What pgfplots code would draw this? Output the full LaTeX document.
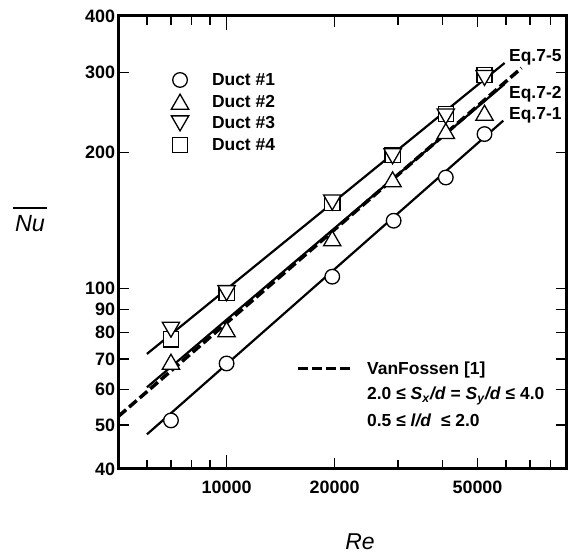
\documentclass[border=0pt]{standalone}
\usepackage{fontspec}
\setmainfont{Liberation Sans}
\setsansfont{Liberation Sans}
\usepackage{pgfplots}
\pgfplotsset{compat=1.18}

\begin{document}
\begin{tikzpicture}
\path[use as bounding box] (-118.5bp,-85bp) rectangle (451.5bp,469bp);
\begin{loglogaxis}[
  scale only axis,
  width=448bp, height=453bp,
  xmin=5000, xmax=88500,
  ymin=40, ymax=400,
  xtick={10000,20000,50000},
  xticklabels={10000,20000,50000},
  minor xtick={6000,7000,8000,9000,30000,40000,60000,70000,80000},
  extra x ticks={10000},
  extra x tick labels={},
  extra x tick style={major tick length=14.5bp},
  ytick={40,50,60,70,80,90,100,200,300,400},
  yticklabels={40,50,60,70,80,90,100,200,300,400},
  axis line style={line width=3bp},
  tick style={line width=1.4bp, black},
  major tick length=11bp,
  minor tick length=9.5bp,
  xticklabel style={font=\bfseries\fontsize{18}{18}\selectfont, yshift=-8bp},
  yticklabel style={font=\bfseries\fontsize{18}{18}\selectfont},
  legend image code/.code={
    \path[draw=none, fill=none] (-10bp,-10.85bp) rectangle (32bp,10.85bp);
    \draw[#1] plot coordinates {(0bp,0bp)};
  },
  legend cell align=left,
  legend style={at={(0.115,0.8827)}, anchor=north west, draw=none, fill=none,
    inner sep=0pt, outer sep=0pt, row sep=0pt,
    nodes={inner sep=0pt, font=\bfseries\fontsize{17.5}{17.5}\selectfont}},
]
% correlation lines
\addplot[black, line width=2.2bp, forget plot] coordinates {(6000,47.7) (59000,235)};
\addplot[black, line width=2.2bp, forget plot] coordinates {(6000,60.6) (59500,283)};
\addplot[black, line width=2.2bp, forget plot] coordinates {(6000,71.8) (59500,315)};
\addplot[black, line width=3.5bp, dash pattern=on 10bp off 4bp, forget plot]
  coordinates {(5000,52.3) (66300,307)};

% measured data
\addplot[only marks, mark=*, mark size=7.3bp,
  mark options={draw=black, fill=white, line width=1.3bp}, forget plot]
  coordinates {(7000,51.2) (10000,68.4) (19700,106.3) (29200,141.3) (40800,176) (52300,219.5)};
\addplot[only marks, mark=triangle*, mark size=10bp,
  mark options={yshift=-2.5bp, draw=black, fill=white, line width=1.3bp}, forget plot]
  coordinates {(7000,69) (10000,81.4) (19700,129.2) (29000,174.4) (40800,223) (52300,244.6)};
\addplot[only marks, mark=square*, mark size=7.6bp,
  mark options={draw=black, fill=white, line width=1.3bp}, forget plot]
  coordinates {(7000,77.3) (10000,97.8) (19700,154.8) (29000,197.4) (40800,243) (52300,296.4)};
\addplot[only marks, mark=triangle*, mark size=10bp,
  mark options={yshift=2.5bp, rotate=180, draw=black, fill=white, line width=1.3bp}, forget plot]
  coordinates {(7000,81.2) (10000,97.8) (19700,155) (29000,196) (40800,240) (52300,292)};

\addlegendimage{mark=*, mark size=7.3bp, mark options={draw=black, fill=white, line width=1.3bp}}
\addlegendentry{Duct \#1}
\addlegendimage{mark=triangle*, mark size=10bp, mark options={yshift=-2.5bp, draw=black, fill=white, line width=1.3bp}}
\addlegendentry{Duct \#2}
\addlegendimage{mark=triangle*, mark size=10bp, mark options={yshift=2.5bp, rotate=180, draw=black, fill=white, line width=1.3bp}}
\addlegendentry{Duct \#3}
\addlegendimage{mark=square*, mark size=7.6bp, mark options={draw=black, fill=white, line width=1.3bp}}
\addlegendentry{Duct \#4}
\end{loglogaxis}

% line labels
\begin{scope}[every node/.style={anchor=base west, inner sep=0pt, font=\bfseries\fontsize{17.5}{17.5}\selectfont}]
\node at (390.5bp,407bp) {Eq.7-5};
\node at (390.5bp,370bp) {Eq.7-2};
\node at (390.5bp,349bp) {Eq.7-1};
\end{scope}

% VanFossen key
\draw[black, line width=3.5bp, dash pattern=on 10bp off 4bp] (179.5bp,100.5bp) -- (231.5bp,100.5bp);
\begin{scope}[every node/.style={anchor=base west, inner sep=0pt, font=\bfseries\fontsize{17.5}{17.5}\selectfont}]
\node at (248.5bp,94bp) {VanFossen [1]};
\node at (248.5bp,69bp) {2.0 ≤ \textit{S}\textsubscript{\textit{x}}\textit{/d} = \textit{S}\textsubscript{\textit{y}}\textit{/d} ≤ 4.0};
\node at (248.5bp,42bp) {0.5 ≤ \textit{l/d}\ \ ≤ 2.0};
\end{scope}

% axis titles
\node[anchor=base, inner sep=0pt, font=\itshape\fontsize{23.5}{23.5}\selectfont] at (-88.5bp,237bp) {Nu};
\draw[line width=1.8bp] (-105.5bp,261bp) -- (-71.5bp,261bp);
\node[anchor=base, inner sep=0pt, font=\itshape\fontsize{23}{23}\selectfont] at (241.5bp,-80bp) {Re};
\end{tikzpicture}
\end{document}
